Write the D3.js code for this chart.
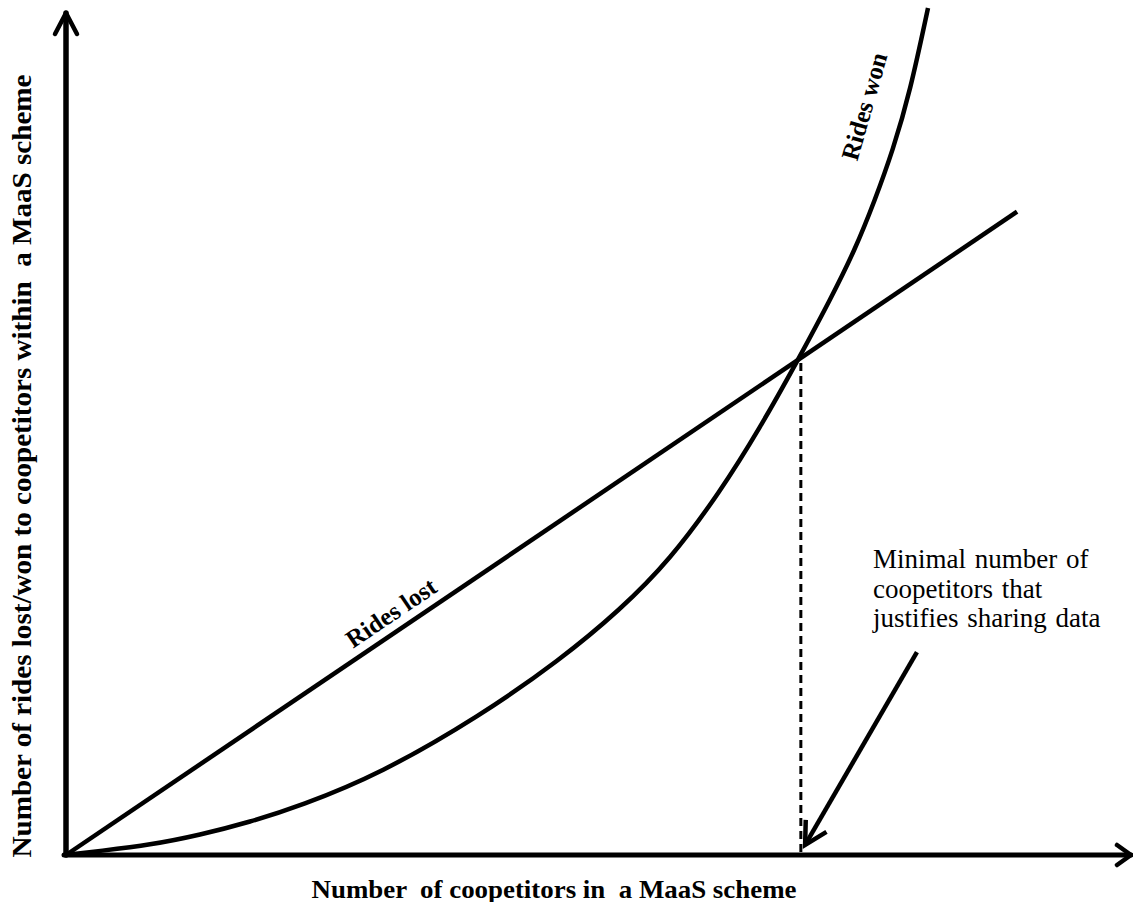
<!DOCTYPE html>
<html>
<head>
<meta charset="utf-8">
<script src="https://cdn.jsdelivr.net/npm/d3@7"></script>
<style>
  html, body { margin: 0; padding: 0; background: #fff; }
  svg { display: block; }
  text { font-family: "Liberation Serif", "Times New Roman", serif; fill: #000; }
</style>
</head>
<body>
<svg id="chart" width="1133" height="902"></svg>
<script>
// ---- data (abstract units) ----
const wonX = [0, 3.19, 7.89, 12.58, 17.28, 21.97, 29.48, 38.87, 46.38, 52.02, 56.71, 61.41, 65.16, 68.73, 71.74, 74.08, 75.96, 77.65, 79.25, 80.94];
const wonY = [0, 0.48, 1.19, 2.38, 3.92, 5.82, 9.62, 16.51, 23.16, 29.10, 35.04, 43.11, 50.71, 58.79, 65.91, 71.85, 77.79, 83.73, 90.62, 100.59];
const lostX = [0, 89.3];
const lostY = [0, 76.4];
const thresholdX = 69.0;
const xLabel = "Number  of coopetitors in  a MaaS scheme";
const yLabel = "Number of rides lost/won to coopetitors within  a MaaS scheme";
const lostLabel = "Rides lost";
const wonLabel = "Rides won";
const noteLines = ["Minimal number of", "coopetitors that", "justifies sharing data"];
const noteArrowTail = [79.9, 24.1];
const noteArrowTip = [69.4, 1.2];

// ---- scales ----
const svg = d3.select("#chart");
const x = d3.scaleLinear().domain([0, 100]).range([66, 1131]);
const y = d3.scaleLinear().domain([0, 100]).range([855, 13]);

// ---- dashed threshold line ----
const interY = lostY[1] / lostX[1] * thresholdX;
svg.append("line")
  .attr("x1", x(thresholdX)).attr("x2", x(thresholdX))
  .attr("y1", y(interY) + 5).attr("y2", y(0))
  .attr("stroke", "#000").attr("stroke-width", 3)
  .attr("stroke-dasharray", "8,5");

// ---- curves ----
const lineGen = d3.line().x(d => x(d[0])).y(d => y(d[1]));
svg.append("path")
  .attr("d", lineGen(lostX.map((v, i) => [v, lostY[i]])))
  .attr("fill", "none").attr("stroke", "#000").attr("stroke-width", 4.5);

const curveGen = d3.line().x(d => x(d[0])).y(d => y(d[1])).curve(d3.curveBasis);
svg.append("path")
  .attr("d", curveGen(wonX.map((v, i) => [v, wonY[i]])))
  .attr("fill", "none").attr("stroke", "#000").attr("stroke-width", 4.5);

// ---- axes with arrowheads ----
const ax = svg.append("g").attr("stroke", "#000").attr("fill", "none")
  .attr("stroke-linecap", "round").attr("stroke-linejoin", "round");
ax.append("line").attr("x1", x(0)).attr("y1", y(0)).attr("x2", x(0)).attr("y2", y(100)).attr("stroke-width", 5.5);
ax.append("line").attr("x1", x(0) - 2).attr("y1", y(0)).attr("x2", x(100)).attr("y2", y(0)).attr("stroke-width", 5);
ax.append("path").attr("stroke-width", 4.5)
  .attr("d", `M${x(0) - 11},${y(100) + 21} L${x(0)},${y(100)} L${x(0) + 11},${y(100) + 21}`);
ax.append("path").attr("stroke-width", 4.5)
  .attr("d", `M${x(100) - 14},${y(0) - 10} L${x(100)},${y(0)} L${x(100) - 14},${y(0) + 10}`);

// ---- axis titles ----
svg.append("text")
  .attr("x", 554).attr("y", 898)
  .attr("text-anchor", "middle")
  .attr("font-size", 25).attr("font-weight", "bold")
  .attr("textLength", 485).attr("lengthAdjust", "spacingAndGlyphs")
  .style("white-space", "pre")
  .text(xLabel);

svg.append("text")
  .attr("transform", "translate(31,466) rotate(-90)")
  .attr("text-anchor", "middle")
  .attr("font-size", 28).attr("font-weight", "bold")
  .attr("textLength", 783).attr("lengthAdjust", "spacingAndGlyphs")
  .style("white-space", "pre")
  .text(yLabel);

// ---- curve labels ----
const lostAngle = Math.atan2(y(lostY[1]) - y(0), x(lostX[1]) - x(0)) * 180 / Math.PI;
const lostPos = 31.5;
svg.append("text")
  .attr("transform", `translate(${x(lostPos)},${y(lostY[1] / lostX[1] * lostPos)}) rotate(${lostAngle})`)
  .attr("text-anchor", "middle").attr("dy", -10)
  .attr("font-size", 25).attr("font-weight", "bold")
  .text(lostLabel);

svg.append("text")
  .attr("transform", `translate(${x(75.0)},${y(88.9)}) rotate(-74)`)
  .attr("text-anchor", "middle").attr("dy", 8)
  .attr("font-size", 25).attr("font-weight", "bold")
  .text(wonLabel);

// ---- annotation ----
const note = svg.append("text").attr("font-size", 27).style("word-spacing", "2px");
noteLines.forEach((t, i) => {
  note.append("tspan").attr("x", 873).attr("y", 568 + i * 29.5).text(t);
});

const tx = x(noteArrowTail[0]), ty = y(noteArrowTail[1]);
const hx = x(noteArrowTip[0]), hy = y(noteArrowTip[1]);
const ang = Math.atan2(hy - ty, hx - tx);
const armLen = 25, spread = 0.5;
const a1 = [hx - armLen * Math.cos(ang - spread), hy - armLen * Math.sin(ang - spread)];
const a2 = [hx - armLen * Math.cos(ang + spread), hy - armLen * Math.sin(ang + spread)];
const ag = svg.append("g").attr("stroke", "#000").attr("fill", "none")
  .attr("stroke-width", 4.5).attr("stroke-linecap", "butt").attr("stroke-linejoin", "miter");
ag.append("line").attr("x1", tx).attr("y1", ty).attr("x2", hx).attr("y2", hy);
ag.append("path").attr("d", `M${a1[0]},${a1[1]} L${hx},${hy} L${a2[0]},${a2[1]}`);
</script>
</body>
</html>
